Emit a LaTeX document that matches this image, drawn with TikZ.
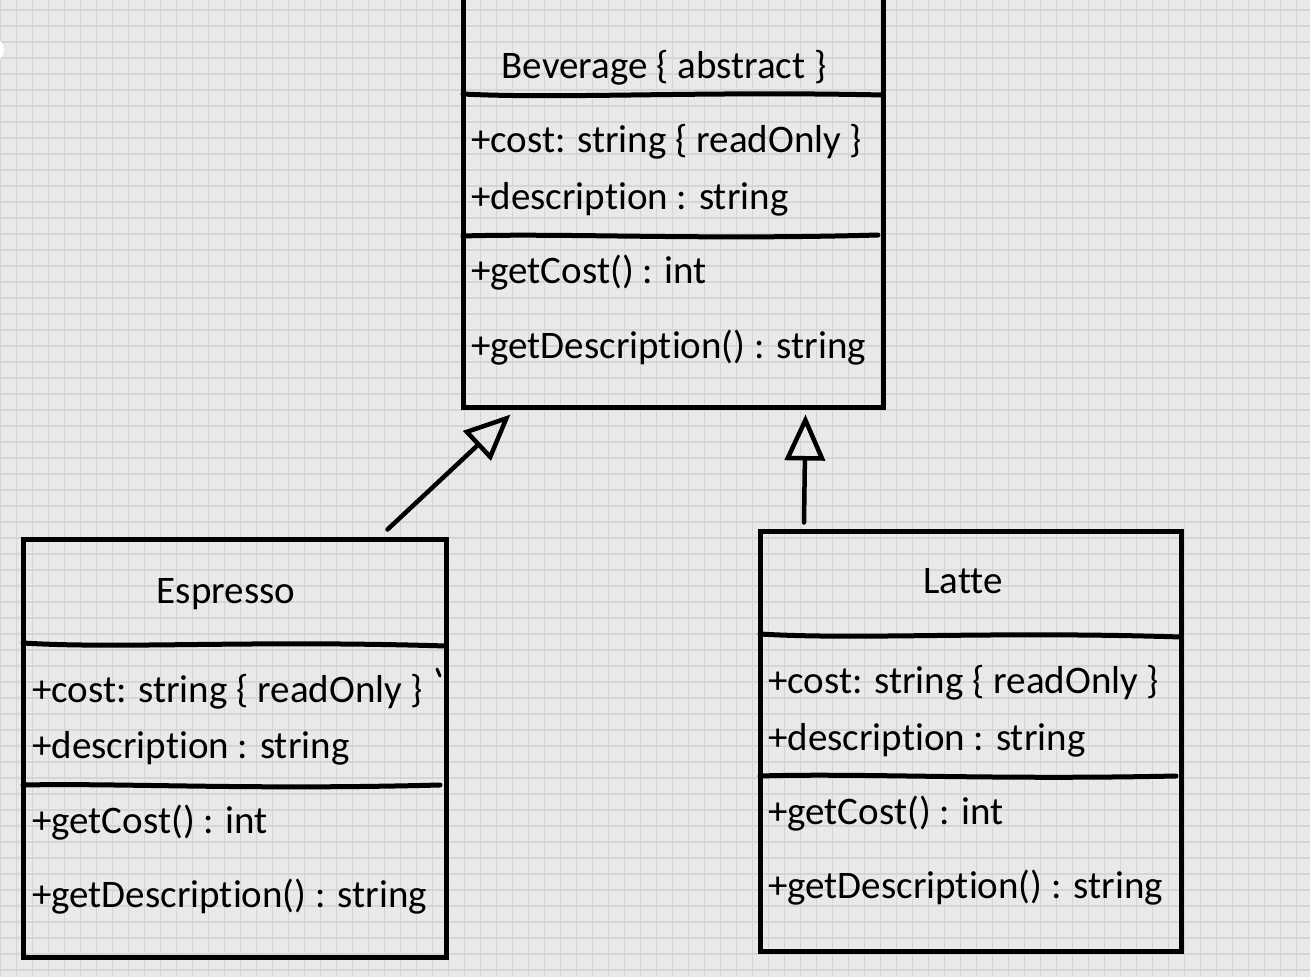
\documentclass[tikz,border=0pt]{standalone}
\usepackage{fontspec}
\setmainfont{Carlito}[Ligatures=NoCommon]
\usetikzlibrary{arrows.meta}
\definecolor{bg}{RGB}{233,233,233}
\definecolor{gridc}{RGB}{213,213,213}
\begin{document}
\begin{tikzpicture}[x=1pt,y=-1pt,
  umlbox/.style={draw=black, line width=5pt, inner sep=0pt, rectangle},
  sepline/.style={draw=black, line width=5pt, line cap=round},
  member/.style={anchor=base west, inner sep=0pt, font=\fontsize{39}{44}\selectfont},
  title/.style={anchor=base, inner sep=0pt, font=\fontsize{39}{44}\selectfont},
  inh/.style={draw=black, line width=4.5pt, line cap=round,
    -{Triangle[open, length=46pt, width=40pt, line join=miter]}}]
\clip (0,0) rectangle (1310,977);
\fill[bg] (0,0) rectangle (1310,977);
\foreach \i in {0,...,82} {\draw[gridc, line width=1.5pt] (0.7+16*\i,0) -- (0.7+16*\i,977);}
\foreach \j in {0,...,61} {\draw[gridc, line width=1.5pt] (0,10+16*\j) -- (1310,10+16*\j);}
% white half circle at left edge
\fill[white] (-9,50) circle (13);

% Beverage
\node[umlbox, minimum width=420pt, minimum height=419pt] (bev) at (673,197.5) {};
\draw[sepline] (463,94) .. controls (560,99) and (700,91) .. (883,95);
\draw[sepline] (463,236) .. controls (560,233) and (700,240) .. (878,235);
\node[title] (bevt) at (664,78) {Beverage \{ abstract \}};
\node[member] (bev1) at (471,152) {+cost: string \{ readOnly \}};
\node[member] (bev2) at (471,209) {+description : string};
\node[member] (bev3) at (471,283) {+getCost() : int};
\node[member] (bev4) at (471,358) {+getDescription() : string};

% Espresso
\node[umlbox, minimum width=423pt, minimum height=418pt] (esp) at (234.5,748) {};
\draw[sepline] (23,643) .. controls (120,649) and (250,640) .. (446,646);
\draw[sepline] (23,785) .. controls (120,783) and (250,790) .. (440,785);
\draw[line width=3pt, line cap=round] (437,669) -- (440,676);
\node[title] (espt) at (226,603) {Espresso};
\node[member] (esp1) at (32,702) {+cost: string \{ readOnly \}};
\node[member] (esp2) at (32,758) {+description : string};
\node[member] (esp3) at (32,833) {+getCost() : int};
\node[member] (esp4) at (32,907) {+getDescription() : string};

% Latte
\node[umlbox, minimum width=421pt, minimum height=420pt] (lat) at (970.5,741) {};
\draw[sepline] (760,634) .. controls (860,640) and (990,631) .. (1181,637);
\draw[sepline] (760,776) .. controls (860,773) and (990,780) .. (1176,776);
\node[title] (latt) at (963,593) {Latte};
\node[member] (lat1) at (768,693) {+cost: string \{ readOnly \}};
\node[member] (lat2) at (768,750) {+description : string};
\node[member] (lat3) at (768,824) {+getCost() : int};
\node[member] (lat4) at (768,898) {+getDescription() : string};

% inheritance
\draw[inh] ([xshift=153pt,yshift=7pt]esp.north) -- ([xshift=50pt,yshift=-5pt]bev.south west);
\draw[inh] ([xshift=-166.5pt,yshift=6pt]lat.north) -- ([xshift=345pt,yshift=-5pt]bev.south west);
\end{tikzpicture}
\end{document}
